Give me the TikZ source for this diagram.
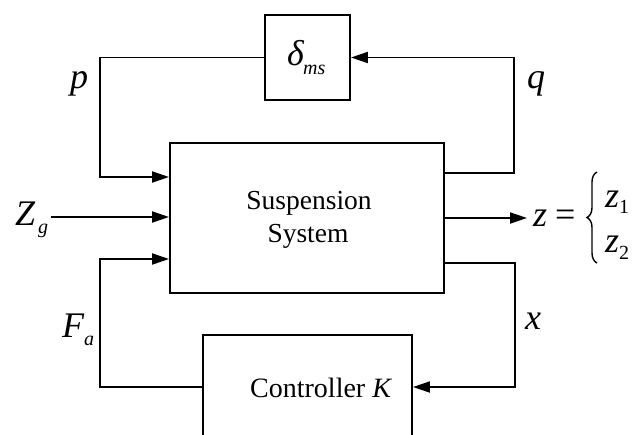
\documentclass[tikz,border=0pt]{standalone}
\usepackage{fontspec}
\setmainfont{Liberation Serif}
\usetikzlibrary{arrows.meta,decorations.pathreplacing}

\tikzset{
  blk/.style={draw, line width=1.9pt, inner sep=0pt},
  wire/.style={line width=1.9pt},
  arr/.style={wire, -{Triangle[length=17pt,width=11pt]}},
  big/.style={inner sep=0pt, anchor=base west, font=\fontsize{36}{40}\selectfont\itshape},
  sub/.style={inner sep=0pt, anchor=base west, font=\fontsize{20}{22}\selectfont\itshape},
  body/.style={inner sep=0pt, anchor=base, font=\fontsize{27.5}{33}\selectfont},
}

\begin{document}
\begin{tikzpicture}[x=1pt, y=-1pt]
  \useasboundingbox (0,0) rectangle (632,434);
  \clip (0,0) rectangle (632,434);

  % blocks
  \node[blk, minimum width=85pt, minimum height=85pt] (delta) at (307.5,57.5) {};
  \node[blk, minimum width=274pt, minimum height=150pt] (sys) at (307,218) {};
  \node[blk, minimum width=209pt, minimum height=104pt] (ctrl) at (307.5,387) {};

  % block texts
  \node[big] (dl) at (287,65) {δ};
  \node[sub] (dls) at (303,74) {ms};
  \node[body] (s1) at (309,209) {Suspension};
  \node[body] (s2) at (308,242) {System};
  \node[inner sep=0pt, anchor=base west, font=\fontsize{28}{33}\selectfont] (cl) at (250,397) {Controller \textit{K}};

  % corner points of the loops
  \coordinate (pc) at (100,177);
  \coordinate (fc) at (100,259);
  \coordinate (qc) at (514,173);
  \coordinate (xc) at (515,263);
  \coordinate (zg) at (51,217);
  \coordinate (zout) at (527,218);

  % connectors
  \draw[arr] (delta.west) -| (pc) -- (sys.west |- pc);
  \draw[arr] (zg) -- (sys.west |- zg);
  \draw[arr] (ctrl.west) -| (fc) -- (sys.west |- fc);
  \draw[arr] (sys.east |- qc) -- (qc) |- (delta.east);
  \draw[arr] (sys.east) -- (zout);
  \draw[arr] (sys.east |- xc) -- (xc) |- (ctrl.east);

  % signal labels
  \node[big] (lp) at (70,88) {p};
  \node[big] (lq) at (527,88) {q};
  \node[big] (lZ) at (15,225) {Z};
  \node[sub] (lZs) at (38,233) {g};
  \node[big] (lF) at (62,337) {F};
  \node[sub] (lFs) at (84,345) {a};
  \node[big] (lx) at (525,329) {x};

  % output vector
  \node[big] (lz) at (533,226) {z};
  \node[inner sep=0pt, anchor=base west, font=\fontsize{36}{40}\selectfont] (eq) at (555,226) {=};
  \draw[line width=1.4pt, decorate, decoration={brace, amplitude=10pt}] (597,263) -- (597,172);
  \node[big] (lz1) at (605,207) {z};
  \node[sub, font=\fontsize{20}{22}\selectfont] (lz1s) at (619,213) {1};
  \node[big] (lz2) at (605,252) {z};
  \node[sub, font=\fontsize{20}{22}\selectfont] (lz2s) at (619,259) {2};
\end{tikzpicture}
\end{document}
